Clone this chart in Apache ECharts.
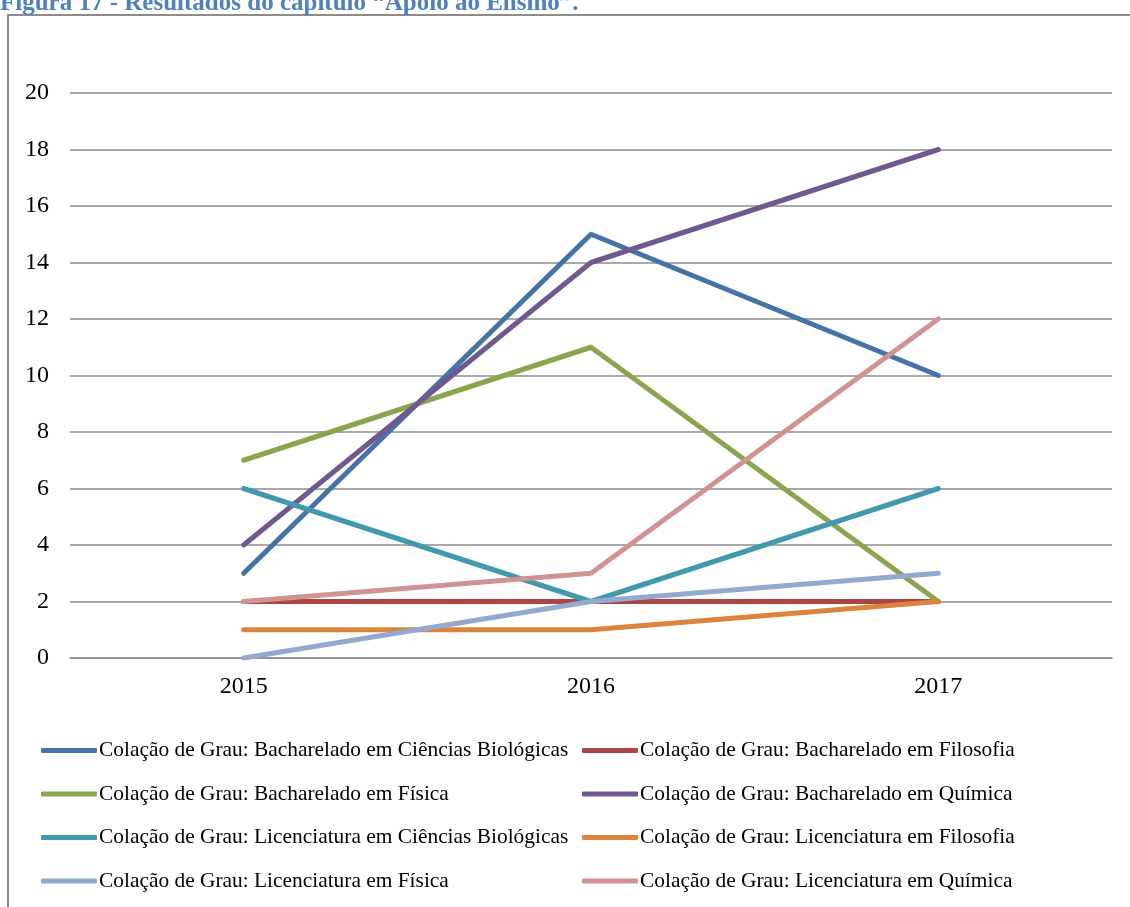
<!DOCTYPE html>
<html lang="pt">
<head>
    <meta charset="UTF-8">
    <title>Apoio ao Ensino</title>
    <script src="https://cdn.jsdelivr.net/npm/echarts@6/dist/echarts.min.js"></script>
    <style>
        html, body { margin: 0; padding: 0; background: #fff; }
        #chart { width: 1130px; height: 907px; }
    </style>
</head>
<body>
<div id="chart"></div>
<script type="text/javascript">
    // anos (eixo x)
    var anos = ['2015', '2016', '2017']
    var yTicks = [0, 2, 4, 6, 8, 10, 12, 14, 16, 18, 20]

    // valores por curso
    var bachBiologicas = [3, 15, 10]
    var bachFilosofia = [2, 2, 2]
    var bachFisica = [7, 11, 2]
    var bachQuimica = [4, 14, 18]
    var licBiologicas = [6, 2, 6]
    var licFilosofia = [1, 1, 2]
    var licFisica = [0, 2, 3]
    var licQuimica = [2, 3, 12]

    var nomes = [
        'Colação de Grau: Bacharelado em Ciências Biológicas',
        'Colação de Grau: Bacharelado em Filosofia',
        'Colação de Grau: Bacharelado em Física',
        'Colação de Grau: Bacharelado em Química',
        'Colação de Grau: Licenciatura em Ciências Biológicas',
        'Colação de Grau: Licenciatura em Filosofia',
        'Colação de Grau: Licenciatura em Física',
        'Colação de Grau: Licenciatura em Química'
    ]
    var valores = [bachBiologicas, bachFilosofia, bachFisica, bachQuimica,
        licBiologicas, licFilosofia, licFisica, licQuimica]
    var cores = ['#4572A7', '#AA4643', '#89A54E', '#71588F',
        '#4198AF', '#DB843D', '#93A9CF', '#D19392']

    var chart = echarts.init(document.getElementById('chart'))

    var serif = '"Liberation Serif", "DejaVu Serif", serif'

    var series = []
    for (var i = 0; i < nomes.length; i++) {
        series.push({
            name: nomes[i],
            type: 'line',
            data: valores[i],
            symbol: 'none',
            lineStyle: { width: 5, color: cores[i], cap: 'round', join: 'round' },
            itemStyle: { color: cores[i] }
        })
    }

    // legenda em duas colunas
    var legendaBase = {
        orient: 'vertical',
        top: 740,
        padding: 0,
        itemWidth: 56,
        itemHeight: 5,
        itemGap: 22.5,
        icon: 'roundRect',
        textStyle: { fontFamily: serif, fontSize: 21.4, color: '#000', padding: [0, 0, 0, -3] },
        selectedMode: false
    }
    var legenda1 = Object.assign({}, legendaBase, { left: 41, data: [nomes[0], nomes[2], nomes[4], nomes[6]] })
    var legenda2 = Object.assign({}, legendaBase, { left: 582, data: [nomes[1], nomes[3], nomes[5], nomes[7]] })

    var option = {
        animation: false,
        backgroundColor: '#fff',
        graphic: [
            {
                type: 'rect',
                shape: { x: 8, y: 15, width: 1140, height: 900 },
                style: { fill: 'none', stroke: '#8c8c8c', lineWidth: 2 },
                silent: true
            },
            {
                type: 'text',
                x: 0,
                y: -9,
                style: {
                    text: 'Figura 17 - Resultados do capítulo “Apoio ao Ensino”.',
                    font: 'bold 25px "Liberation Serif", serif',
                    fill: '#4F81BD'
                },
                silent: true
            }
        ],
        legend: [legenda1, legenda2],
        grid: { left: 70, right: 18, top: 93, bottom: 249 },
        xAxis: {
            type: 'category',
            data: anos,
            boundaryGap: true,
            axisLine: { lineStyle: { color: '#8c8c8c', width: 1.5 } },
            axisTick: { show: false },
            axisLabel: { fontFamily: serif, fontSize: 24, color: '#000', margin: 17 }
        },
        yAxis: {
            type: 'value',
            min: yTicks[0],
            max: yTicks[yTicks.length - 1],
            interval: 2,
            axisLine: { show: false },
            axisTick: { show: false },
            axisLabel: { fontFamily: serif, fontSize: 24, color: '#000', margin: 21 },
            splitLine: { lineStyle: { color: '#8c8c8c', width: 1.5 } }
        },
        series: series
    }

    chart.setOption(option)
</script>
</body>
</html>
